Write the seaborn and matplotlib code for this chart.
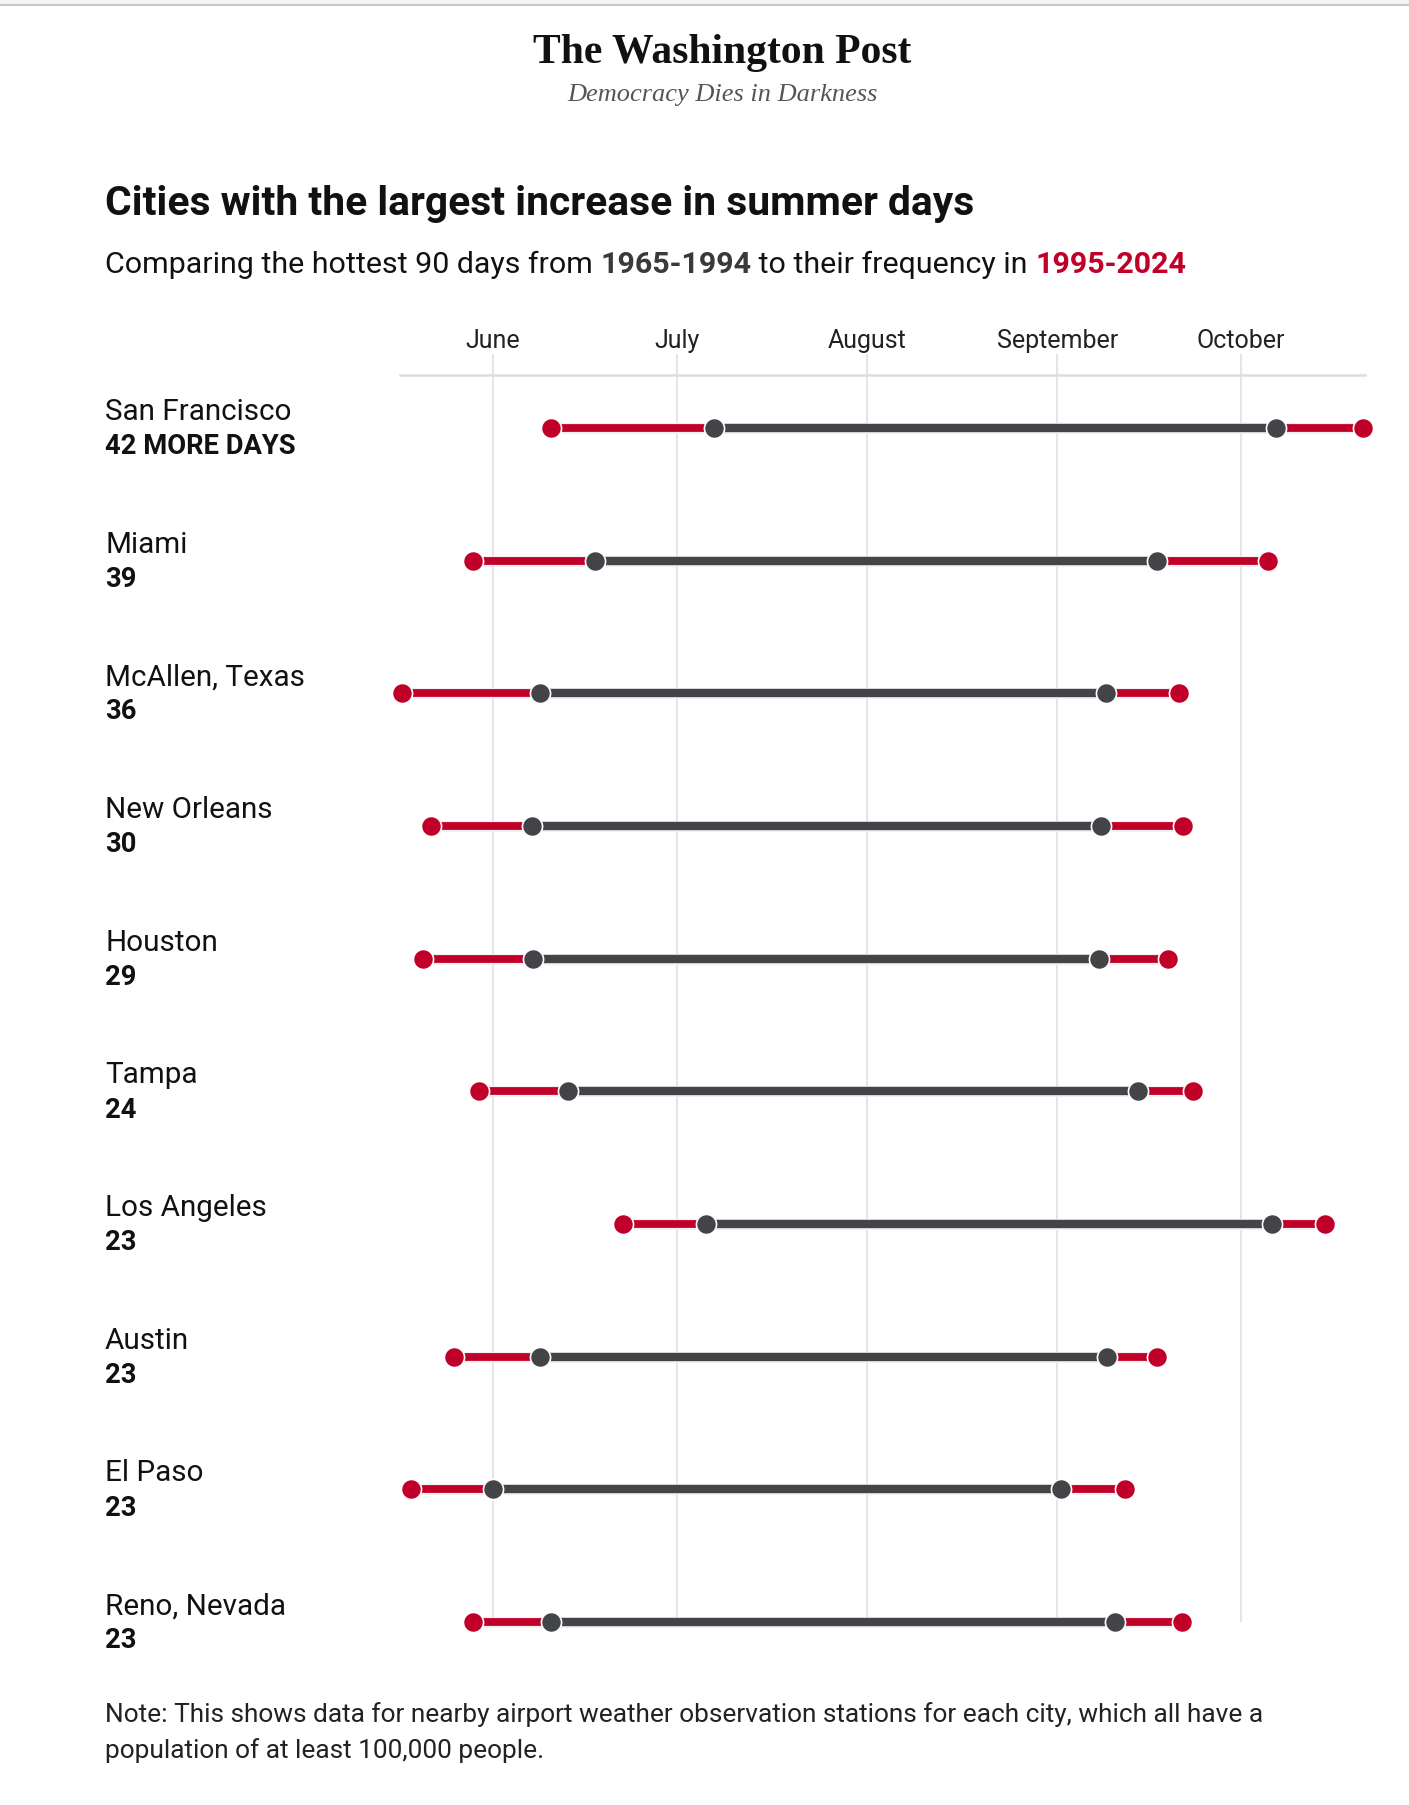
import numpy as np
import pandas as pd
import seaborn as sns
import matplotlib.pyplot as plt
import matplotlib.patheffects as pe

# data: day of year (non-leap) of start / end of the hottest-90-day window
cities = ["San Francisco", "Miami", "McAllen, Texas", "New Orleans", "Houston",
          "Tampa", "Los Angeles", "Austin", "El Paso", "Reno, Nevada"]
more_days = ["42 MORE DAYS", "39", "36", "30", "29", "24", "23", "23", "23", "23"]
new_start = [161.4, 148.8, 137.1, 141.9, 140.6, 149.7, 173.2, 145.7, 138.7, 148.7]
old_start = [188.0, 168.6, 159.6, 158.3, 158.5, 164.3, 186.8, 159.7, 152.0, 161.5]
old_end = [279.7, 260.3, 252.0, 251.2, 250.8, 257.2, 279.0, 252.2, 244.6, 253.4]
new_end = [293.8, 278.3, 263.8, 264.6, 262.0, 266.2, 287.7, 260.3, 255.1, 264.4]
month_names = ["June", "July", "August", "September", "October"]
month_days = [152, 182, 213, 244, 274]

RED = "#c10029"
GRAY = "#434447"

df = pd.DataFrame({"city": cities, "row": np.arange(len(cities)),
                   "new_start": new_start, "old_start": old_start,
                   "old_end": old_end, "new_end": new_end})
new_pts = df.melt(id_vars=["row"], value_vars=["new_start", "new_end"], value_name="day")
old_pts = df.melt(id_vars=["row"], value_vars=["old_start", "old_end"], value_name="day")

sns.set_theme(style="white")
plt.rcParams["font.family"] = ["Roboto", "DejaVu Sans"]

W, H = 1409, 1805
fig = plt.figure(figsize=(W / 100, H / 100), dpi=100)
ax = fig.add_axes([400 / W, 1 - 1650 / H, 965 / W, 1275 / H])

# month grid
ax.vlines(month_days, ymin=-0.556, ymax=9, colors="#e0e0e0", lw=1.2, zorder=0, clip_on=False)

# new period (red) underneath, old period (gray) on top
ax.hlines(df["row"], df["new_start"], df["new_end"], colors=RED, lw=5.6, zorder=2,
          path_effects=[pe.withStroke(linewidth=7.8, foreground="#f0f0f0")], clip_on=False)
sns.scatterplot(data=new_pts, x="day", y="row", color=RED, s=210, edgecolor="white",
                linewidth=1.2, zorder=3, ax=ax, clip_on=False, legend=False)
ax.hlines(df["row"], df["old_start"], df["old_end"], colors=GRAY, lw=6.0, zorder=4,
          path_effects=[pe.withStroke(linewidth=8.0, foreground="#f0f0f0")], clip_on=False)
sns.scatterplot(data=old_pts, x="day", y="row", color=GRAY, s=210, edgecolor="white",
                linewidth=1.2, zorder=5, ax=ax, clip_on=False, legend=False)

ax.set_xlim(136.83, 294.2)
ax.set_ylim(9.21, -0.398)
ax.set_xticks(month_days)
ax.set_xticklabels(month_names, fontsize=18, color="#222222")
ax.xaxis.set_ticks_position("top")
ax.tick_params(axis="x", length=0, pad=16)
ax.set_yticks([])
ax.set_xlabel("")
ax.set_ylabel("")
for side in ["left", "right", "bottom"]:
    ax.spines[side].set_visible(False)
ax.spines["top"].set_color("#dddddd")
ax.spines["top"].set_linewidth(1.8)

# city labels
for i in range(len(cities)):
    ax.annotate(cities[i], xy=(105 / W, i), xycoords=(fig.transFigure, ax.transData),
                xytext=(0, 11.5), textcoords="offset points", va="center", ha="left",
                fontsize=21.3, color="#111111")
    ax.annotate(more_days[i], xy=(105 / W, i), xycoords=(fig.transFigure, ax.transData),
                xytext=(0, -13.5), textcoords="offset points", va="center", ha="left",
                fontsize=19.7, fontweight="bold", color="#111111")

# header
fig.patches.append(plt.Rectangle((0, 1 - 4 / H), 1, 4 / H, transform=fig.transFigure,
                                 color="#f3f3f3", zorder=0))
fig.add_artist(plt.Line2D([0, 1], [1 - 5 / H, 1 - 5 / H], transform=fig.transFigure,
                          color="#c8c8c8", lw=1.5))
fig.text(722 / W, 1 - 53 / H, "The Washington Post", ha="center", va="center",
         fontsize=30, fontweight="bold", family=["Liberation Serif", "DejaVu Serif"],
         color="#111111")
fig.text(722 / W, 1 - 95 / H, "Democracy Dies in Darkness", ha="center", va="center",
         fontsize=19, style="italic", family=["Liberation Serif", "DejaVu Serif"],
         color="#555555")

fig.text(105 / W, 1 - 204 / H, "Cities with the largest increase in summer days",
         ha="left", va="center", fontsize=29.3, fontweight="bold", color="#111111")

# subtitle with coloured periods
t1 = fig.text(105 / W, 1 - 273 / H, "Comparing the hottest 90 days from ", ha="left",
              va="baseline", fontsize=21.9, color="#111111")
t2 = ax.annotate("1965-1994", xy=(1, 0), xycoords=t1, va="bottom", ha="left",
                 fontsize=21.9, fontweight="bold", color="#3a3a3a", annotation_clip=False)
t3 = ax.annotate(" to their frequency in ", xy=(1, 0), xycoords=t2, va="bottom", ha="left",
                 fontsize=21.9, color="#111111", annotation_clip=False)
t4 = ax.annotate("1995-2024", xy=(1, 0), xycoords=t3, va="bottom", ha="left",
                 fontsize=21.9, fontweight="bold", color=RED, annotation_clip=False)

fig.text(105 / W, 1 - 1715 / H,
         "Note: This shows data for nearby airport weather observation stations for each city, which all have a",
         ha="left", va="center", fontsize=18.9, color="#222222")
fig.text(105 / W, 1 - 1751 / H, "population of at least 100,000 people.",
         ha="left", va="center", fontsize=18.9, color="#222222")

fig.savefig("out.png", dpi=100, facecolor="white")
